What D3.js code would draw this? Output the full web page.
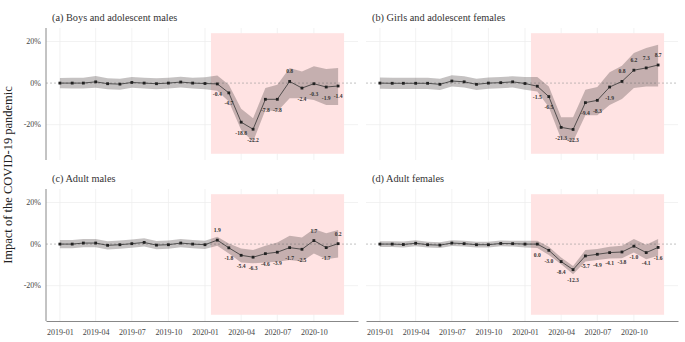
<!DOCTYPE html>
<html>
<head>
<meta charset="utf-8">
<script src="https://cdn.jsdelivr.net/npm/d3@7"></script>
<style>
  body { margin: 0; background: #fff; }
  svg text { font-family: "Liberation Serif", "DejaVu Serif", serif; }
</style>
</head>
<body>
<div id="chart"></div>
<script>
// ---- data ----
var months = ["2019-01","2019-02","2019-03","2019-04","2019-05","2019-06","2019-07","2019-08","2019-09","2019-10","2019-11","2019-12",
              "2020-01","2020-02","2020-03","2020-04","2020-05","2020-06","2020-07","2020-08","2020-09","2020-10","2020-11","2020-12"];
var tickMonths = ["2019-01","2019-04","2019-07","2019-10","2020-01","2020-04","2020-07","2020-10"];
var yTicks = [-20, 0, 20];
var labelFrom = "2020-02";
var pandemicStart = "2020-01-16", pandemicEnd = "2020-12-16";
var pandemicRange = [-34, 24];

var titles = ["(a) Boys and adolescent males", "(b) Girls and adolescent females", "(c) Adult males", "(d) Adult females"];

var boysEst = [0, 0, 0, 0.6, -0.3, -0.5, 0.3, 0, -0.3, 0, 0.5, 0,
               -0.2, -0.4, -4.7, -18.8, -22.2, -7.8, -7.8, 0.8, -2.4, -0.3, -1.9, -1.4];
var boysHi  = [2.5, 2.6, 2.6, 3.4, 2.3, 2.1, 2.9, 2.6, 2.3, 2.6, 3.1, 2.6,
               2.8, 3.7, -0.8, -12.4, -16.9, -2.4, -0.8, 7.3, 5.6, 8.1, 6.8, 7.3];
var boysLo  = [-2.5, -2.6, -2.6, -2.2, -3.0, -3.2, -2.3, -2.6, -3.0, -2.6, -2.1, -2.6,
               -3.0, -3.7, -8.9, -22.6, -28.2, -12.9, -13.7, -7.3, -7.3, -8.1, -10.5, -10.5];

var girlsEst = [0, -0.1, -0.1, -0.1, -0.1, -0.6, 1.0, 0.6, -0.6, 0, 0.2, 0.6,
                -0.2, -1.5, -6.5, -21.3, -22.3, -9.4, -8.3, -1.9, 0.8, 6.2, 7.3, 8.7];
var girlsHi  = [2.7, 2.6, 2.6, 2.6, 2.6, 2.1, 3.8, 3.3, 2.1, 2.7, 2.9, 3.3,
                2.9, 2.9, -1.6, -16.4, -16.4, -3.2, -1.9, 5.2, 8.4, 14.5, 16.9, 18.5];
var girlsLo  = [-2.7, -2.8, -2.8, -2.8, -2.8, -3.3, -1.7, -2.1, -3.3, -2.7, -2.5, -2.1,
                -3.2, -4.0, -11.6, -26.9, -28.1, -15.5, -15.5, -10.5, -7.7, -2.4, -1.6, -1.6];

var menEst = [0, 0, 0.5, 0.5, -0.6, -0.3, 0.2, 0.8, -0.5, -0.3, 0.5, 0,
              -0.3, 1.9, -1.8, -5.4, -6.3, -4.6, -3.9, -1.7, -2.5, 1.7, -1.7, 0.2];
var menHi  = [2.0, 2.0, 2.5, 2.5, 1.4, 1.7, 2.2, 2.8, 1.5, 1.7, 2.5, 2.0,
              1.6, 3.5, 0.3, -2.1, -2.9, -0.8, 0.8, 4.0, 3.2, 7.3, 5.2, 6.8];
var menLo  = [-2.0, -2.0, -1.5, -1.5, -2.6, -2.3, -1.8, -1.2, -2.5, -2.3, -1.5, -2.0,
              -2.4, -0.8, -4.5, -8.9, -9.2, -8.9, -8.5, -7.7, -8.4, -4.5, -7.3, -6.5];

var womenEst = [0, 0, -0.2, 0.4, -0.3, -0.5, 0.5, 0.2, -0.3, -0.3, 0.3, 0.2,
                0, 0.0, -3.0, -8.4, -12.3, -5.7, -4.9, -4.1, -3.8, -1.0, -4.1, -1.6];
var womenHi  = [1.4, 1.4, 1.2, 1.8, 1.1, 0.9, 1.9, 1.6, 1.1, 1.1, 1.7, 1.6,
                1.6, 1.6, -1.3, -6.5, -10.5, -2.9, -2.4, -1.3, -0.8, 2.4, -0.3, 2.4];
var womenLo  = [-1.4, -1.4, -1.6, -1.0, -1.7, -1.9, -0.9, -1.2, -1.7, -1.7, -1.1, -1.2,
                -1.6, -1.9, -5.2, -9.7, -14.5, -8.4, -7.6, -6.9, -6.8, -4.0, -7.3, -5.6];

var parseMonth = d3.timeParse("%Y-%m");
var parseDay = d3.timeParse("%Y-%m-%d");

function rows(est, lo, hi) {
    return months.map(function(m, i) {
        return { date: parseMonth(m), est: est[i], lo: lo[i], hi: hi[i] };
    });
}

var panels = [
    { title: titles[0], data: rows(boysEst, boysLo, boysHi),   col: 0, row: 0 },
    { title: titles[1], data: rows(girlsEst, girlsLo, girlsHi), col: 1, row: 0 },
    { title: titles[2], data: rows(menEst, menLo, menHi),       col: 0, row: 1 },
    { title: titles[3], data: rows(womenEst, womenLo, womenHi), col: 1, row: 1 }
];

var svg = d3.select("#chart").append("svg")
    .attr("width", 685)
    .attr("height", 342);

// y axis title
svg.append("text")
    .attr("transform", "translate(12,175) rotate(-90)")
    .attr("text-anchor", "middle")
    .attr("font-size", 12.5)
    .attr("fill", "#222")
    .text("Impact of the COVID-19 pandemic");

/*
 * Panel - one small multiple
 */
function Panel(_svg, _info) {
    this.svg = _svg;
    this.info = _info;
    this.initVis();
}

Panel.prototype.initVis = function() {
    var vis = this;

    vis.width = 312;
    vis.height = 132;
    vis.left = vis.info.col === 0 ? 46 : 366;
    vis.top = vis.info.row === 0 ? 28 : 189;

    vis.g = vis.svg.append("g")
        .attr("transform", "translate(" + vis.left + "," + vis.top + ")");

    vis.x = d3.scaleTime()
        .domain([new Date(2018, 10, 27), new Date(2021, 0, 20)])
        .range([0, vis.width]);

    vis.y = d3.scaleLinear()
        .domain([-37, 26.5])
        .range([vis.height, 0]);

    // grid
    vis.g.selectAll(".vgrid")
        .data(tickMonths.map(parseMonth))
        .enter().append("line")
        .attr("x1", function(d) { return vis.x(d); })
        .attr("x2", function(d) { return vis.x(d); })
        .attr("y1", 0).attr("y2", vis.height)
        .attr("stroke", "#ececec").attr("stroke-width", 0.7);

    vis.g.selectAll(".hgrid")
        .data(yTicks.filter(function(d) { return d !== 0; }))
        .enter().append("line")
        .attr("x1", 0).attr("x2", vis.width)
        .attr("y1", function(d) { return vis.y(d); })
        .attr("y2", function(d) { return vis.y(d); })
        .attr("stroke", "#ececec").attr("stroke-width", 0.7);

    // pandemic window
    vis.g.append("rect")
        .attr("x", vis.x(parseDay(pandemicStart)))
        .attr("width", vis.x(parseDay(pandemicEnd)) - vis.x(parseDay(pandemicStart)))
        .attr("y", vis.y(pandemicRange[1]))
        .attr("height", vis.y(pandemicRange[0]) - vis.y(pandemicRange[1]))
        .attr("fill", "#ffe3e3");

    // zero reference
    vis.g.append("line")
        .attr("x1", 0).attr("x2", vis.width)
        .attr("y1", vis.y(0)).attr("y2", vis.y(0))
        .attr("stroke", "#999").attr("stroke-width", 0.6)
        .attr("stroke-dasharray", "2,2");

    // confidence band
    vis.area = d3.area()
        .x(function(d) { return vis.x(d.date); })
        .y0(function(d) { return vis.y(d.lo); })
        .y1(function(d) { return vis.y(d.hi); });

    vis.g.append("path")
        .datum(vis.info.data)
        .attr("fill", "#4a4040")
        .attr("fill-opacity", 0.32)
        .attr("d", vis.area);

    vis.line = d3.line()
        .x(function(d) { return vis.x(d.date); })
        .y(function(d) { return vis.y(d.est); });

    vis.g.append("path")
        .datum(vis.info.data)
        .attr("fill", "none")
        .attr("stroke", "#333")
        .attr("stroke-width", 0.8)
        .attr("d", vis.line);

    vis.g.selectAll(".pt")
        .data(vis.info.data)
        .enter().append("rect")
        .attr("x", function(d) { return vis.x(d.date) - 1.4; })
        .attr("y", function(d) { return vis.y(d.est) - 1.4; })
        .attr("width", 2.8).attr("height", 2.8)
        .attr("fill", "#222");

    // value labels for the pandemic months
    var start = parseMonth(labelFrom);
    vis.g.selectAll(".lab")
        .data(vis.info.data.filter(function(d) { return d.date >= start; }))
        .enter().append("text")
        .attr("x", function(d) { return vis.x(d.date); })
        .attr("y", function(d) { return vis.y(d.est) + (d.est > 0 ? -8 : 12.5); })
        .attr("text-anchor", "middle")
        .attr("font-size", 5.6)
        .attr("font-weight", "bold")
        .attr("fill", "#333")
        .text(function(d) { return d.est.toFixed(1); });

    // axes
    if (vis.info.col === 0) {
        vis.g.append("line")
            .attr("x1", 0).attr("x2", 0)
            .attr("y1", 0).attr("y2", vis.height)
            .attr("stroke", "#888").attr("stroke-width", 1);

        vis.g.selectAll(".ytick")
            .data(yTicks)
            .enter().append("text")
            .attr("x", -5)
            .attr("y", function(d) { return vis.y(d); })
            .attr("dy", "0.32em")
            .attr("text-anchor", "end")
            .attr("font-size", 8)
            .attr("fill", "#444")
            .text(function(d) { return d + "%"; });
    }

    if (vis.info.row === 1) {
        vis.xAxis = d3.axisBottom(vis.x)
            .tickValues(tickMonths.map(parseMonth))
            .tickFormat(d3.timeFormat("%Y-%m"))
            .tickSize(0)
            .tickPadding(8);

        var ax = vis.g.append("g")
            .attr("transform", "translate(0," + vis.height + ")")
            .call(vis.xAxis);
        ax.attr("font-family", null);
        ax.select(".domain").attr("stroke", "#888").attr("stroke-width", 1);
        ax.selectAll("text")
            .attr("font-size", 8)
            .attr("fill", "#444");
    }

    vis.g.append("text")
        .attr("x", 6)
        .attr("y", -7)
        .attr("font-size", 10.3)
        .attr("fill", "#333")
        .text(vis.info.title);
};

panels.forEach(function(p) { new Panel(svg, p); });
</script>
</body>
</html>
